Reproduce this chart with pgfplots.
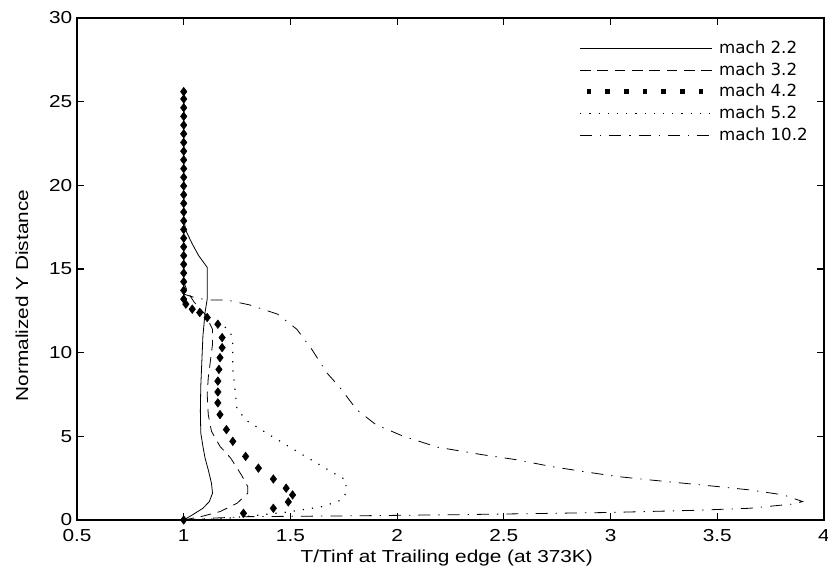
\documentclass[border=0pt]{standalone}
\usepackage{fontspec}
\setmainfont{Liberation Sans}[FakeStretch=1.2]
\newfontfamily\legendfont{DejaVu Sans}
\usepackage{pgfplots}
\pgfplotsset{compat=1.18}
\begin{document}
\begin{tikzpicture}
\begin{axis}[
  scale only axis,
  width=560.25pt, height=376.5pt,
  xmin=0.5, xmax=4, ymin=0, ymax=30,
  xtick={0.5,1,...,4}, ytick={0,5,...,30},
  tick align=inside, major tick length=5pt,
  xtick pos=both, ytick pos=both,
  axis line style={line width=0.8pt},
  tick style={line width=0.8pt, black},
  /pgf/number format/assume math mode=true,
  ticklabel style={font=\fontsize{13}{15}\selectfont},
  xticklabel style={yshift=-3.5pt},
  label style={font=\fontsize{13}{15}\selectfont},
  xlabel={T/Tinf at Trailing edge (at 373K)},
  ylabel={Normalized Y Distance},
  x label style={at={(axis description cs:0.495,0)}, anchor=center, yshift=-28.5pt},
  y label style={at={(axis description cs:0,0.447)}, anchor=center, yshift=41.25pt},
  legend image code/.code={\draw[#1] (0pt,0pt) -- (99pt,0pt);},
  legend style={at={(1,1)}, anchor=north east, xshift=-8pt, yshift=-13.5pt,
    draw=none, fill=white, font=\legendfont\fontsize{12.5}{14}\selectfont,
    row sep=2.25pt, column sep=1.5pt, inner sep=2pt,
    nodes={inner sep=2pt, text height=9pt, text depth=1pt}},
  legend cell align=left,
]
% mach 2.2 solid
\addplot[black, line width=0.6pt, mark=none] coordinates {
(1,0) (1.04,0.3) (1.09,0.7) (1.12,1.1) (1.135,1.6) (1.13,2.2) (1.115,3.0)
(1.10,3.7) (1.09,4.4) (1.08,5.2) (1.078,6.5) (1.08,8) (1.085,9.5) (1.09,11)
(1.10,12.4) (1.11,13.2) (1.11,15.1) (1.07,15.8) (1.04,16.5) (1.01,17.3)
(1.0,18) (1.0,25.5)};
\addlegendentry{mach 2.2}
% mach 3.2 dashed
\addplot[black, line width=0.6pt, mark=none, dash pattern=on 8pt off 5pt] coordinates {
(1,0) (1.08,0.2) (1.17,0.5) (1.25,1.0) (1.30,1.6) (1.30,2.0) (1.27,2.7)
(1.22,3.7) (1.17,4.4) (1.13,5.3) (1.115,6.3) (1.11,7.5) (1.115,8.5)
(1.125,9.5) (1.135,10.5) (1.135,11.4) (1.10,12.3) (1.05,13.0) (1.02,13.6)
(1.0,14.2) (1.0,25.5)};
\addlegendentry{mach 3.2}
% mach 4.2 diamonds
\addplot[black, only marks, mark=diamond*, mark size=3.2pt,
  legend image code/.code={\draw[line width=3.5pt, dash pattern=on 3.5pt off 10.5pt, dash phase=-5pt] (0pt,0pt) -- (99pt,0pt);}]
coordinates {
(1,0) (1.28,0.4) (1.42,0.7) (1.49,1.08) (1.51,1.5) (1.48,1.9) (1.42,2.45)
(1.35,3.1) (1.29,3.8) (1.23,4.7) (1.20,5.4) (1.17,6.3) (1.16,7.0) (1.16,7.65)
(1.16,8.3) (1.165,9.0) (1.17,9.7) (1.18,10.3) (1.18,10.9) (1.16,11.7)
(1.11,12.1) (1.075,12.4) (1.04,12.6) (1.01,12.9)
(1,13.2) (1,13.72) (1,14.24) (1,14.76) (1,15.28) (1,15.8) (1,16.32)
(1,16.84) (1,17.36) (1,17.88) (1,18.4) (1,18.92) (1,19.44) (1,19.96)
(1,20.48) (1,21.0) (1,21.52) (1,22.04) (1,22.56) (1,23.08) (1,23.6)
(1,24.12) (1,24.64) (1,25.16) (1,25.6)};
\addlegendentry{mach 4.2}
% mach 5.2 dotted
\addplot[black, line width=0.9pt, mark=none, dash pattern=on 0.9pt off 6pt] coordinates {
(1,0) (1.2,0.1) (1.36,0.3) (1.50,0.5) (1.65,0.8) (1.74,1.2) (1.76,1.6)
(1.76,2.4) (1.73,2.6) (1.65,3.2) (1.53,4.1) (1.40,5.1) (1.30,5.9) (1.25,6.6)
(1.24,7.8) (1.23,9.0) (1.23,10.5) (1.22,11.2) (1.18,11.7) (1.12,12.1)
(1.06,12.4) (1.02,12.7) (1.0,13.0) (1.0,25.5)};
\addlegendentry{mach 5.2}
% mach 10.2 dash-dot
\addplot[black, line width=0.6pt, mark=none, dash pattern=on 9pt off 6pt on 1pt off 6pt] coordinates {
(1,0) (1.15,0.12) (1.3,0.2) (1.8,0.25) (2.3,0.32) (3.0,0.45) (3.4,0.58)
(3.65,0.7) (3.85,0.95) (3.9,1.1) (3.81,1.5) (3.65,1.8) (3.50,2.0) (3.34,2.2)
(3.18,2.4) (3.03,2.6) (2.87,2.9) (2.72,3.2) (2.56,3.6) (2.40,3.9) (2.19,4.35)
(2.03,5.0) (1.90,5.7) (1.81,6.6) (1.73,7.95) (1.67,8.8) (1.60,10.2)
(1.53,11.4) (1.44,12.3) (1.31,12.85) (1.20,13.15) (1.11,13.15) (1.05,13.3)
(1.0,13.5) (1.0,25.5)};
\addlegendentry{mach 10.2}
\end{axis}
\pgfresetboundingbox
\path (current axis.south west) ++(-57.75pt,-39.75pt) coordinate (bbA);
\path (current axis.north east) ++(3pt,13.5pt) coordinate (bbB);
\useasboundingbox (bbA) rectangle (bbB);
\end{tikzpicture}
\end{document}
